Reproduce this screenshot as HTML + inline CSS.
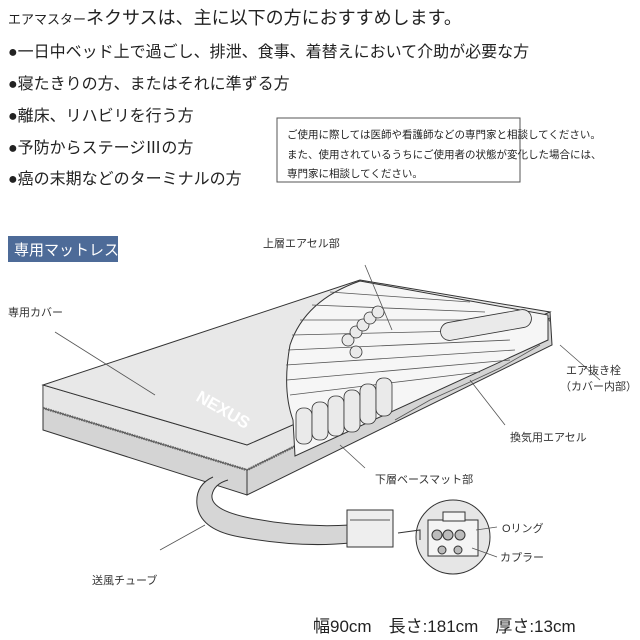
<!DOCTYPE html>
<html><head><meta charset="utf-8"><style>
body{margin:0;background:#fff;width:640px;height:640px;overflow:hidden;font-family:"Liberation Sans","Noto Sans CJK JP",sans-serif;}
svg{display:block}
text{font-family:"Liberation Sans","Noto Sans CJK JP",sans-serif;}
</style></head><body>
<svg width="640" height="640" viewBox="0 0 640 640">
<text x="8" y="24" font-size="13" fill="#222">エアマスター<tspan font-size="18">ネクサスは、主に以下の方におすすめします。</tspan></text>
<g font-size="16" fill="#222">
<text x="8" y="57">●一日中ベッド上で過ごし、排泄、食事、着替えにおいて介助が必要な方</text>
<text x="8" y="89">●寝たきりの方、またはそれに準ずる方</text>
<text x="8" y="121">●離床、リハビリを行う方</text>
<text x="8" y="153">●予防からステージⅢの方</text>
<text x="8" y="184">●癌の末期などのターミナルの方</text>
</g>
<rect x="277" y="118" width="243" height="64" fill="#fff" stroke="#555" stroke-width="1"/>
<g font-size="10.5" fill="#222">
<text x="287" y="138">ご使用に際しては医師や看護師などの専門家と相談してください。</text>
<text x="287" y="158">また、使用されているうちにご使用者の状態が変化した場合には、</text>
<text x="287" y="177">専門家に相談してください。</text>
</g>
<rect x="8" y="236" width="110" height="26" fill="#4d6b98"/>
<text x="14" y="255" font-size="15" fill="#fff">専用マットレス</text>
<!-- mattress sides -->
<polygon points="43,385 247,445 247,495 43,430" fill="#d4d4d4" stroke="#333"/>
<polygon points="247,445 550,312 552,345 247,495" fill="#d4d4d4" stroke="#333"/>
<polygon points="43,385 247,445 550,312 550,318 247,470 43,408" fill="#e6e6e6" stroke="#333" stroke-width="0.8"/>
<polyline points="43,408 247,470 550,320" fill="none" stroke="#666" stroke-width="2.5" stroke-dasharray="1.5,1"/>
<!-- top face (cover) -->
<polygon points="43,385 360,280 550,312 247,445" fill="#e8e8e8" stroke="#333"/>
<!-- cutaway -->
<path d="M360,281 Q305,300 290,345 Q282,390 293,420 L295,456 L548,340 L548,315 Z" fill="#f6f6f6" stroke="#333"/>
<g stroke="#555" stroke-width="0.8" fill="none">
<line x1="330" y1="292" x2="470" y2="302"/><line x1="312" y1="305" x2="485" y2="312"/>
<line x1="300" y1="320" x2="500" y2="320"/><line x1="292" y1="335" x2="505" y2="330"/>
<line x1="288" y1="350" x2="510" y2="340"/><line x1="286" y1="365" x2="515" y2="350"/>
<line x1="287" y1="380" x2="510" y2="360"/><line x1="290" y1="395" x2="480" y2="372"/>
<polyline points="395,420 430,400 470,382 500,368 540,345"/>
</g>
<g fill="#eaeaea" stroke="#333" stroke-width="0.8">
<circle cx="348" cy="340" r="6"/><circle cx="356" cy="332" r="6"/><circle cx="363" cy="325" r="6"/>
<circle cx="370" cy="318" r="6"/><circle cx="378" cy="312" r="6"/><circle cx="356" cy="352" r="6"/>
<rect x="296" y="408" width="16" height="36" rx="7"/><rect x="312" y="402" width="16" height="38" rx="7"/>
<rect x="328" y="396" width="16" height="40" rx="7"/><rect x="344" y="390" width="16" height="42" rx="7"/>
<rect x="360" y="384" width="16" height="40" rx="7"/><rect x="376" y="378" width="16" height="38" rx="7"/>
<rect x="440" y="316" width="92" height="18" rx="9" transform="rotate(-10 486 325)"/>
</g>
<text x="195" y="400" font-size="17" fill="#fff" transform="rotate(30 195 400)" font-weight="bold">NEXUS</text>
<!-- leader lines -->
<g stroke="#555" stroke-width="0.8">
<line x1="55" y1="332" x2="155" y2="395"/>
<line x1="365" y1="265" x2="392" y2="330"/>
<line x1="560" y1="345" x2="600" y2="380"/>
<line x1="470" y1="380" x2="505" y2="425"/>
<line x1="340" y1="445" x2="365" y2="468"/>
<line x1="160" y1="550" x2="205" y2="525"/>
</g>
<!-- tube -->
<path d="M213,477 Q195,485 197,505 Q200,530 240,537 Q300,548 350,543 L350,525 Q300,528 250,518 Q210,510 212,495 Q214,484 228,480" fill="#d6d6d6" stroke="#333"/>
<rect x="347" y="510" width="46" height="37" fill="#eee" stroke="#333"/>
<line x1="350" y1="520" x2="390" y2="520" stroke="#555"/>
<circle cx="453" cy="537" r="37" fill="#e6e6e6" stroke="#333"/>
<polyline points="398,533 420,530 420,540" fill="none" stroke="#333"/>
<rect x="428" y="520" width="50" height="36" fill="#f4f4f4" stroke="#333"/>
<rect x="443" y="512" width="22" height="9" fill="#f4f4f4" stroke="#333"/>
<g fill="#bbb" stroke="#333"><circle cx="437" cy="535" r="5"/><circle cx="448" cy="535" r="5"/><circle cx="460" cy="535" r="5"/><circle cx="442" cy="550" r="4"/><circle cx="458" cy="550" r="4"/></g>
<g stroke="#555" stroke-width="0.8"><line x1="476" y1="530" x2="497" y2="527"/><line x1="472" y1="548" x2="497" y2="557"/></g>
<g font-size="11" fill="#333">
<text x="263" y="247">上層エアセル部</text>
<text x="8" y="316">専用カバー</text>
<text x="566" y="374">エア抜き栓</text>
<text x="560" y="390">（カバー内部）</text>
<text x="510" y="441">換気用エアセル</text>
<text x="375" y="483">下層ベースマット部</text>
<text x="502" y="532">Oリング</text>
<text x="500" y="561">カプラー</text>
<text x="92" y="584">送風チューブ</text>
</g>
<text x="313" y="632" font-size="17" fill="#222">幅90cm　長さ:181cm　厚さ:13cm</text>
</svg>
</body></html>
